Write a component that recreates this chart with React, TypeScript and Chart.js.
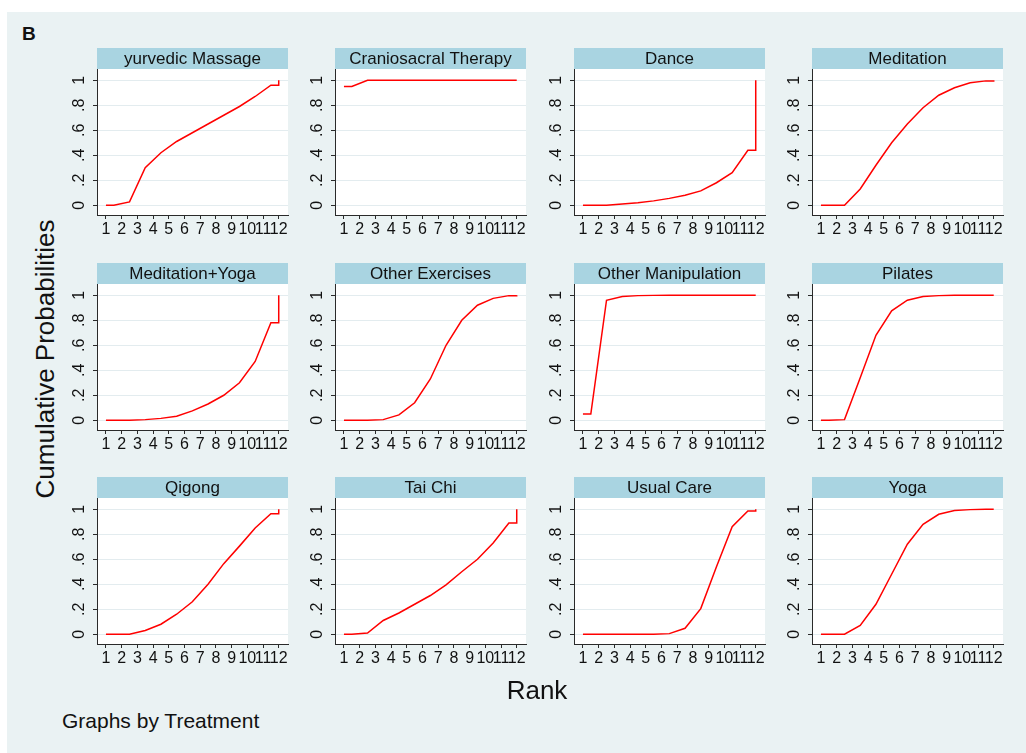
import React, { useEffect, useRef } from "react";
import { Chart, registerables } from "chart.js";

Chart.register(...registerables);

const FONT = "'Liberation Sans', Arial, Helvetica, sans-serif";
Chart.defaults.font.family = FONT;

// Ranks shown on every x axis
const RANKS = [1, 2, 3, 4, 5, 6, 7, 8, 9, 10, 11, 12];
// Probability ticks on every y axis
const Y_TICKS = [0, 0.2, 0.4, 0.6, 0.8, 1];

// Treatments, in panel order
const TREATMENTS = [
  "yurvedic Massage",
  "Craniosacral Therapy",
  "Dance",
  "Meditation",
  "Meditation+Yoga",
  "Other Exercises",
  "Other Manipulation",
  "Pilates",
  "Qigong",
  "Tai Chi",
  "Usual Care",
  "Yoga",
];

// Cumulative probability of each rank (ranks 1..12) per treatment
const AYURVEDIC_MASSAGE = [0, 0.027, 0.3, 0.42, 0.51, 0.58, 0.65, 0.72, 0.79, 0.87, 0.96, 1];
const CRANIOSACRAL_THERAPY = [0.95, 1, 1, 1, 1, 1, 1, 1, 1, 1, 1, 1];
const DANCE = [0, 0, 0.01, 0.02, 0.035, 0.055, 0.08, 0.115, 0.18, 0.26, 0.44, 1];
const MEDITATION = [0, 0, 0.13, 0.32, 0.5, 0.65, 0.78, 0.88, 0.94, 0.98, 0.995, 1];
const MEDITATION_YOGA = [0, 0, 0.005, 0.015, 0.032, 0.075, 0.13, 0.2, 0.3, 0.47, 0.78, 1];
const OTHER_EXERCISES = [0, 0, 0.005, 0.043, 0.14, 0.33, 0.6, 0.8, 0.92, 0.975, 0.997, 1];
const OTHER_MANIPULATION = [0.05, 0.96, 0.99, 0.997, 0.999, 1, 1, 1, 1, 1, 1, 1];
const PILATES = [0, 0.005, 0.34, 0.68, 0.875, 0.96, 0.99, 0.997, 1, 1, 1, 1];
const QIGONG = [0, 0, 0.03, 0.08, 0.16, 0.26, 0.4, 0.565, 0.705, 0.85, 0.965, 1];
const TAI_CHI = [0, 0.01, 0.11, 0.17, 0.24, 0.31, 0.395, 0.5, 0.6, 0.73, 0.89, 1];
const USUAL_CARE = [0, 0, 0, 0, 0, 0.005, 0.048, 0.205, 0.54, 0.86, 0.987, 1];
const YOGA = [0, 0, 0.07, 0.24, 0.48, 0.72, 0.88, 0.96, 0.99, 0.997, 1, 1];

const SERIES = [
  AYURVEDIC_MASSAGE,
  CRANIOSACRAL_THERAPY,
  DANCE,
  MEDITATION,
  MEDITATION_YOGA,
  OTHER_EXERCISES,
  OTHER_MANIPULATION,
  PILATES,
  QIGONG,
  TAI_CHI,
  USUAL_CARE,
  YOGA,
];

// Styling
const BG = "#eaf2f3";
const BAR = "#a9d4e1";
const GRID = "#e3ecef";
const AXIS = "#2a2a2a";
const LINE = "#ff0000";
const TICK_FONT = 16;

// Panel geometry
const TITLE_H = 21;
const PLOT_W = 191;
const PLOT_H = 146;
const Y_AXIS_W = 36;
const X_AXIS_H = 34;
const RIGHT_PAD = 6;
const CANVAS_W = Y_AXIS_W + PLOT_W + RIGHT_PAD;
const CANVAS_H = TITLE_H + PLOT_H + X_AXIS_H;
const COL_X = [90, 328.3, 566.6, 805];
const ROW_Y = [36, 250.5, 465];

const X_MIN = 0.43;
const X_MAX = 12.59;
const Y_MIN = -0.078;
const Y_MAX = 1.09;

// Build the plotted path from the cumulative values: the first value is held
// from rank 1 to 1.5, the middle ranks sit at half steps, and the last rank
// closes with a vertical jump at 12.
function toPoints(c: number[]) {
  const n = c.length;
  const first = RANKS[0];
  const last = RANKS[n - 1];
  const pts = [
    { x: first, y: c[0] },
    { x: first + 0.5, y: c[0] },
  ];
  for (let k = 1; k < n - 1; k++) pts.push({ x: RANKS[k] + 0.5, y: c[k] });
  pts.push({ x: last, y: c[n - 2] });
  pts.push({ x: last, y: c[n - 1] });
  return pts;
}

function fmtProb(v: number) {
  if (v === 0) return "0";
  if (v === 1) return "1";
  return String(v).replace(/^0/, "");
}

function Panel({ title, values, left, top }: { title: string; values: number[]; left: number; top: number }) {
  const ref = useRef<HTMLCanvasElement>(null);
  useEffect(() => {
    const frame = {
      id: "panelFrame",
      beforeDraw(chart: any) {
        const { ctx, chartArea: a } = chart;
        ctx.save();
        ctx.fillStyle = "#ffffff";
        ctx.fillRect(a.left, a.top, a.right - a.left, a.bottom - a.top);
        ctx.fillStyle = BAR;
        ctx.fillRect(a.left, 0, a.right - a.left, TITLE_H);
        ctx.fillStyle = "#111111";
        ctx.font = `17px ${FONT}`;
        ctx.textAlign = "center";
        ctx.textBaseline = "middle";
        ctx.fillText(title, (a.left + a.right) / 2, TITLE_H / 2 + 1);
        ctx.restore();
      },
    };
    const chart = new Chart(ref.current as HTMLCanvasElement, {
      type: "line",
      data: {
        datasets: [
          {
            data: toPoints(values),
            borderColor: LINE,
            borderWidth: 1.5,
            pointRadius: 0,
            tension: 0,
            fill: false,
          },
        ],
      },
      options: {
        animation: false,
        responsive: false,
        maintainAspectRatio: false,
        layout: { padding: { top: TITLE_H, right: RIGHT_PAD, left: 0, bottom: 0 } },
        plugins: { legend: { display: false }, tooltip: { enabled: false } },
        scales: {
          x: {
            type: "linear",
            min: X_MIN,
            max: X_MAX,
            afterBuildTicks: (s: any) => {
              s.ticks = RANKS.map((v) => ({ value: v }));
            },
            afterFit: (s: any) => {
              s.height = X_AXIS_H;
            },
            ticks: {
              autoSkip: false,
              minRotation: 0,
              maxRotation: 0,
              padding: 1,
              color: "#111",
              font: { size: TICK_FONT, family: FONT },
              callback: (v: any) => String(v),
            },
            grid: { drawOnChartArea: false, tickLength: 4, tickColor: AXIS, tickWidth: 1 },
            border: { display: true, color: AXIS, width: 1 },
          },
          y: {
            type: "linear",
            min: Y_MIN,
            max: Y_MAX,
            afterBuildTicks: (s: any) => {
              s.ticks = Y_TICKS.map((v) => ({ value: v }));
            },
            afterFit: (s: any) => {
              s.width = Y_AXIS_W;
            },
            ticks: {
              minRotation: 90,
              maxRotation: 90,
              crossAlign: "center",
              padding: 7,
              color: "#111",
              font: { size: TICK_FONT, family: FONT },
              callback: (v: any) => fmtProb(Number(v)),
            },
            grid: { color: GRID, lineWidth: 1, tickLength: 4, tickColor: AXIS, tickWidth: 1 },
            border: { display: true, color: AXIS, width: 1 },
          },
        },
      } as any,
      plugins: [frame],
    });
    return () => chart.destroy();
  }, [title, values]);
  return (
    <canvas
      ref={ref}
      width={CANVAS_W}
      height={CANVAS_H}
      style={{ position: "absolute", left: left - Y_AXIS_W, top, width: CANVAS_W, height: CANVAS_H }}
    />
  );
}

export default function App() {
  return (
    <div
      style={{
        position: "absolute",
        left: 7,
        top: 12,
        width: 1019,
        height: 741,
        background: BG,
        fontFamily: FONT,
        color: "#111",
        overflow: "hidden",
      }}
    >
      <div style={{ position: "absolute", left: 15, top: 12, fontSize: 19, fontWeight: "bold", lineHeight: 1 }}>B</div>
      {TREATMENTS.map((t, i) => (
        <Panel key={t} title={t} values={SERIES[i]} left={COL_X[i % 4]} top={ROW_Y[Math.floor(i / 4)]} />
      ))}
      <div
        style={{
          position: "absolute",
          left: 38,
          top: 347,
          fontSize: 26,
          lineHeight: 1,
          whiteSpace: "nowrap",
          transform: "translate(-50%, -50%) rotate(-90deg)",
        }}
      >
        Cumulative Probabilities
      </div>
      <div
        style={{
          position: "absolute",
          left: 530,
          top: 678,
          fontSize: 26,
          lineHeight: 1,
          whiteSpace: "nowrap",
          transform: "translate(-50%, -50%)",
        }}
      >
        Rank
      </div>
      <div
        style={{
          position: "absolute",
          left: 55,
          top: 708,
          fontSize: 21,
          lineHeight: 1,
          whiteSpace: "nowrap",
          transform: "translateY(-50%)",
        }}
      >
        Graphs by Treatment
      </div>
    </div>
  );
}
